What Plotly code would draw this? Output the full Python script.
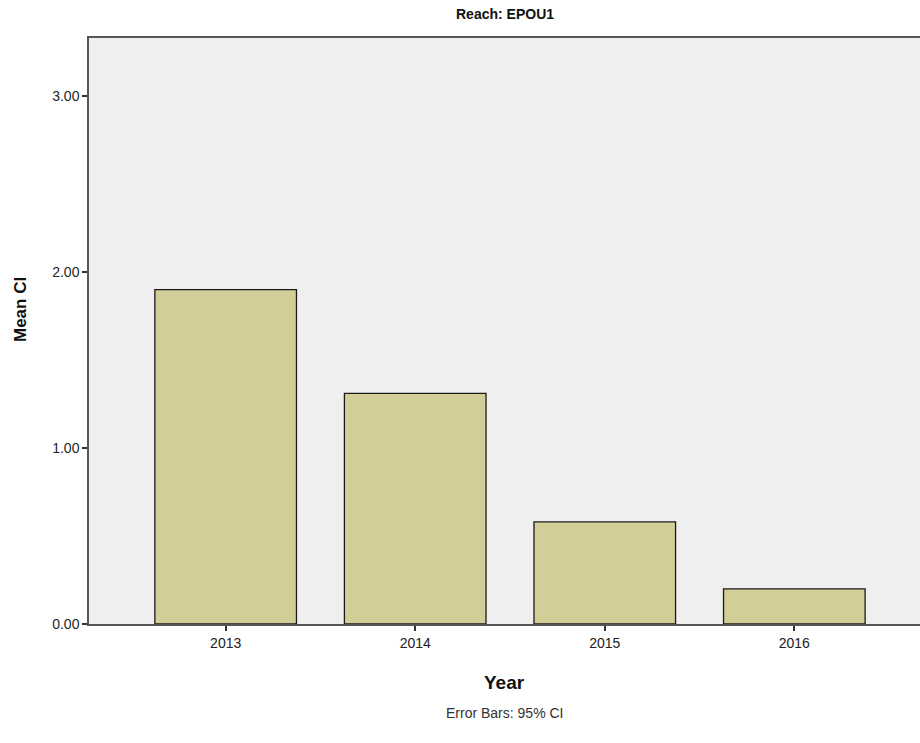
import plotly.graph_objects as go

years = ["2013", "2014", "2015", "2016"]
mean_ci = [1.90, 1.31, 0.58, 0.20]
y_ticks = [0, 1, 2, 3]
y_tick_labels = ["0.00", "1.00", "2.00", "3.00"]

FONT = "Liberation Sans, Arial, sans-serif"

W, H = 920, 743
L, T = 89, 38
PLOT_BOTTOM = 624
B = H - PLOT_BOTTOM
PLOT_H = PLOT_BOTTOM - T

fig = go.Figure()
fig.add_trace(go.Bar(
    x=years, y=mean_ci, width=0.747,
    marker=dict(color="#D3CE97", line=dict(color="#1a1a1a", width=1.3)),
))

fig.update_layout(
    width=W, height=H,
    margin=dict(l=L, r=0, t=T, b=B),
    paper_bgcolor="white", plot_bgcolor="#EFEFEF",
    showlegend=False,
    font=dict(family=FONT, size=14, color="#222"),
)
fig.update_xaxes(
    type="category", range=[-0.721, 3.663],
    showline=True, linecolor="#555", linewidth=1.5, mirror=True,
    ticks="outside", ticklen=5, tickcolor="#333", tickwidth=1.5,
    showgrid=False, zeroline=False,
    tickfont=dict(size=14, family=FONT, color="#222"),
)
fig.update_yaxes(
    range=[0, 3.33], tickvals=y_ticks, ticktext=y_tick_labels,
    showline=True, linecolor="#555", linewidth=1.5, mirror=False,
    ticks="outside", ticklen=5, tickcolor="#333", tickwidth=1.5,
    showgrid=False, zeroline=False,
    tickfont=dict(size=14, family=FONT, color="#222"),
)

fig.add_annotation(text="<b>Reach: EPOU1</b>", xref="paper", yref="paper",
                   x=0.5, y=1, yshift=24, yanchor="middle", xanchor="center",
                   showarrow=False,
                   font=dict(size=14, family=FONT, color="#111"))
fig.add_annotation(text="<b>Year</b>", xref="paper", yref="paper",
                   x=0.5, y=0, yshift=-58, yanchor="middle", xanchor="center",
                   showarrow=False,
                   font=dict(size=19, family=FONT, color="#111"))
fig.add_annotation(text="<b>Mean CI</b>", xref="paper", yref="paper",
                   x=0, xshift=-69, y=(PLOT_BOTTOM - 310) / PLOT_H,
                   xanchor="center", yanchor="middle", showarrow=False,
                   textangle=-90, font=dict(size=17, family=FONT, color="#111"))
fig.add_annotation(text="Error Bars: 95% CI", xref="paper", yref="paper",
                   x=0.5, y=0, yshift=-89, yanchor="middle", xanchor="center",
                   showarrow=False,
                   font=dict(size=14, family=FONT, color="#333"))

fig.write_html("out.html",
               config={"displayModeBar": False},
               post_script="document.body.style.margin='0px';window.dispatchEvent(new Event('resize'));")
